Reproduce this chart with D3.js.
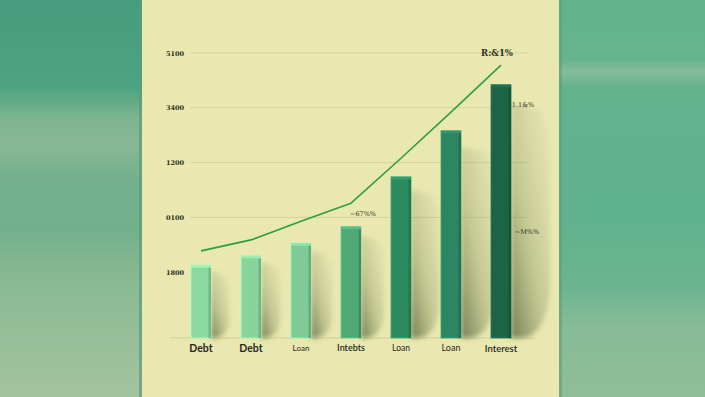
<!DOCTYPE html>
<html>
<head>
<meta charset="utf-8">
<script src="https://cdn.jsdelivr.net/npm/d3@7"></script>
<style>
  html, body { margin: 0; padding: 0; background: #e9e8b1; }
  svg { display: block; }
</style>
</head>
<body>
<div id="chart"></div>
<script>
const categories = ["Debt", "Debt", "Loan", "Intebts", "Loan", "Loan", "Interest"];
const barValues = [1.13, 1.30, 1.53, 1.83, 2.74, 3.58, 4.42];
const lineValues = [1.39, 1.59, 1.93, 2.26, 3.08, 3.92, 4.78];
const tickValues = [1, 2, 3, 4, 5];
const tickLabels = ["1800", "0100", "1200", "3400", "5100"];
const barColors = ["#8dd8a0", "#89d49c", "#7dcb96", "#4fa976", "#2c8c5f", "#2b8661", "#1d6446"];
const labelStyle = [
  {size: 10.5, weight: 700}, {size: 10.5, weight: 700}, {size: 8, weight: 400},
  {size: 9, weight: 600}, {size: 8.5, weight: 400}, {size: 9, weight: 400}, {size: 9.5, weight: 600}
];
const notes = [
  {i: 6, v: 5.0, dx: -4, text: "R:&1%", size: 8.5, weight: 700},
  {i: 6, v: 4.05, dx: 22, text: "1.1&%", size: 6.5, weight: 400},
  {i: 3, v: 2.05, dx: 12, text: "~67%%", size: 6.5, weight: 400},
  {i: 6, v: 1.72, dx: 26, text: "~M%%", size: 6.5, weight: 400}
];

const width = 705, height = 397;
const svg = d3.select("#chart").append("svg")
  .attr("width", width).attr("height", height);
const defs = svg.append("defs");

// side backgrounds
function sideGrad(id, stops) {
  const g = defs.append("linearGradient").attr("id", id)
    .attr("x1", 0).attr("y1", 0).attr("x2", 0).attr("y2", 1);
  stops.forEach(s => g.append("stop").attr("offset", s[0]).attr("stop-color", s[1]));
}
sideGrad("leftBg", [[0, "#479b7e"], [0.22, "#4ea382"], [0.3, "#7fb58f"], [0.36, "#88b893"],
  [0.45, "#74b08d"], [0.58, "#72b08c"], [0.68, "#86b890"], [0.8, "#93bd96"], [1, "#a3c39f"]]);
sideGrad("rightBg", [[0, "#61b38c"], [0.15, "#66b48f"], [0.18, "#86bd98"], [0.22, "#62b28e"],
  [0.55, "#5fb28e"], [0.72, "#6db491"], [0.82, "#86bc96"], [1, "#90bd96"]]);

svg.append("rect").attr("x", 0).attr("y", 0).attr("width", 142).attr("height", height).attr("fill", "url(#leftBg)");
svg.append("rect").attr("x", 559).attr("y", 0).attr("width", width - 559).attr("height", height).attr("fill", "url(#rightBg)");
svg.append("rect").attr("x", 139).attr("y", 0).attr("width", 3).attr("height", height).attr("fill", "#5b9c76").attr("opacity", 0.7);
svg.append("rect").attr("x", 143).attr("y", 0).attr("width", 416).attr("height", height).attr("fill", "#e9e8b1");
svg.append("rect").attr("x", 559).attr("y", 0).attr("width", 3).attr("height", height).attr("fill", "#5a9f78").attr("opacity", 0.6);

const x = d3.scaleBand()
  .domain(d3.range(categories.length))
  .range([176, 526])
  .paddingInner(0.6)
  .paddingOuter(0.3);

const y = d3.scaleLinear()
  .domain([-0.2, 5])
  .range([338, 53]);

// gridlines
svg.append("g").selectAll("line")
  .data(tickValues.filter(t => t > 1))
  .join("line")
    .attr("x1", 190).attr("x2", 528)
    .attr("y1", d => y(d)).attr("y2", d => y(d))
    .attr("stroke", "#d3d29d").attr("stroke-width", 1);

svg.append("line")
  .attr("x1", 170).attr("x2", 535)
  .attr("y1", y(-0.2)).attr("y2", y(-0.2))
  .attr("stroke", "#cfcf9b").attr("stroke-width", 1);

// y axis
svg.append("g")
  .attr("transform", "translate(184,0)")
  .call(d3.axisLeft(y).tickValues(tickValues).tickSize(0).tickPadding(0)
    .tickFormat((d, i) => tickLabels[i]))
  .call(g => g.select(".domain").remove())
  .selectAll("text")
    .style("font-family", "'DejaVu Serif', serif")
    .style("font-size", "6.5px")
    .style("font-weight", 600)
    .attr("fill", "#2e2e22");

// shadows
const blur = defs.append("filter").attr("id", "blur")
  .attr("x", "-50%").attr("y", "-20%").attr("width", "200%").attr("height", "140%");
blur.append("feGaussianBlur").attr("stdDeviation", 2.5);

const sg = defs.append("linearGradient").attr("id", "shadowGrad")
  .attr("x1", 0).attr("y1", 1).attr("x2", 0.9).attr("y2", 0);
sg.append("stop").attr("offset", 0).attr("stop-color", "#4c5a32").attr("stop-opacity", 0.75);
sg.append("stop").attr("offset", 0.45).attr("stop-color", "#7d8a5a").attr("stop-opacity", 0.35);
sg.append("stop").attr("offset", 1).attr("stop-color", "#b9bf8a").attr("stop-opacity", 0.1);

const base = y(-0.2);
svg.append("g").attr("filter", "url(#blur)").selectAll("path")
  .data(barValues)
  .join("path")
    .attr("fill", "url(#shadowGrad)")
    .attr("d", (d, i) => {
      const x0 = x(i) + x.bandwidth();
      const top = y(d);
      const h = base - top;
      const w = 10 + h * 0.115;
      const t0 = top + h * 0.08;
      return `M${x0},${t0} L${x0 + w * 0.75},${t0 + 4} L${x0 + w},${t0 + h * 0.15}
              L${x0 + w},${base - h * 0.25} Q${x0 + w},${base - 4} ${x0 + w * 0.3},${base} L${x0},${base} Z`;
    });

// bars
const bars = svg.append("g").selectAll("g")
  .data(barValues)
  .join("g");

bars.append("rect")
  .attr("x", (d, i) => x(i))
  .attr("y", d => y(d))
  .attr("width", x.bandwidth())
  .attr("height", d => base - y(d))
  .attr("fill", (d, i) => barColors[i])
  .attr("stroke", (d, i) => d3.color(barColors[i]).brighter(0.6))
  .attr("stroke-width", 0.8);

bars.append("rect")
  .attr("x", (d, i) => x(i) + x.bandwidth() - 2.5)
  .attr("y", d => y(d) + 1)
  .attr("width", 2.5)
  .attr("height", d => base - y(d) - 1)
  .attr("fill", (d, i) => d3.color(barColors[i]).darker(0.5));

bars.append("rect")
  .attr("x", (d, i) => x(i))
  .attr("y", d => y(d))
  .attr("width", x.bandwidth())
  .attr("height", 2.5)
  .attr("fill", (d, i) => d3.color(barColors[i]).brighter(0.35));

// line
const line = d3.line()
  .x((d, i) => x(i) + x.bandwidth() / 2)
  .y(d => y(d));

svg.append("path")
  .datum(lineValues)
  .attr("d", line)
  .attr("fill", "none")
  .attr("stroke", "#2f9e3c")
  .attr("stroke-width", 1.6)
  .attr("stroke-linejoin", "round");

// category labels
const xAxis = svg.append("g")
  .attr("transform", `translate(0,${base + 2})`)
  .call(d3.axisBottom(x).tickSize(0).tickPadding(5).tickFormat(i => categories[i]))
  .call(g => g.select(".domain").remove());
xAxis.selectAll("text")
  .style("font-family", "Lato, sans-serif")
  .style("font-size", (d, i) => labelStyle[i].size + "px")
  .style("font-weight", (d, i) => labelStyle[i].weight)
  .attr("fill", "#1f2a1e");

// annotations
svg.append("g").selectAll("text")
  .data(notes)
  .join("text")
    .attr("x", d => x(d.i) + x.bandwidth() / 2 + d.dx)
    .attr("y", d => y(d.v))
    .attr("text-anchor", "middle")
    .attr("dominant-baseline", "middle")
    .style("font-family", "'DejaVu Serif', serif")
    .style("font-size", d => d.size + "px")
    .style("font-weight", d => d.weight)
    .attr("fill", "#2a3324")
    .text(d => d.text);
</script>
</body>
</html>
